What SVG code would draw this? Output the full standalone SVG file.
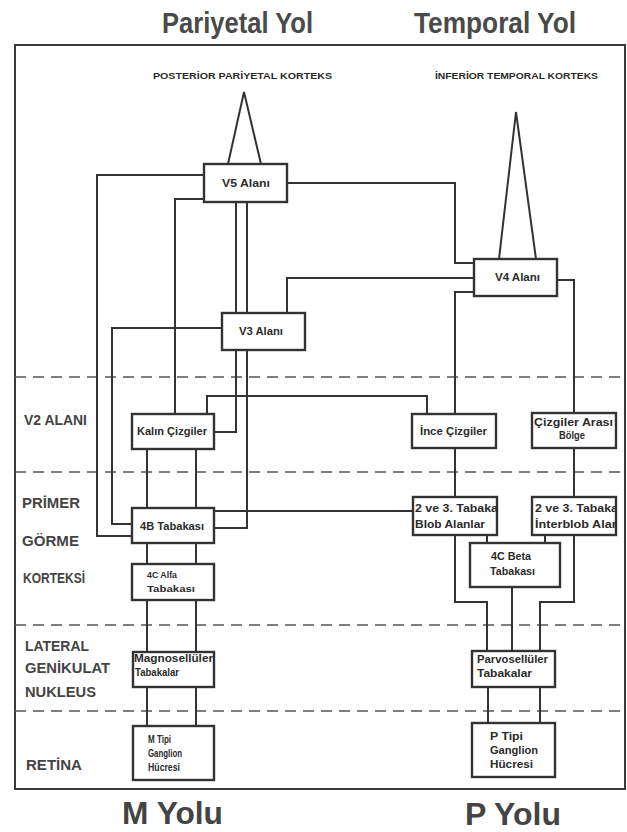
<svg xmlns="http://www.w3.org/2000/svg" width="627" height="832" viewBox="0 0 627 832">
<defs>
<style>
.bg{fill:#fff}
.frame{fill:none;stroke:#3a3a3a;stroke-width:2}
.dash{fill:none;stroke:#555;stroke-width:1.6;stroke-dasharray:11 7}
.box{fill:#fff;stroke:#333;stroke-width:2.4}
.con{fill:none;stroke:#333;stroke-width:2}
.t{font-family:"Liberation Sans",Arial,sans-serif;font-weight:bold;fill:#2b2b2b}
.nl{font-size:10px}
.side{font-size:14px;fill:#444}
.head{font-family:"Liberation Sans",Arial,sans-serif;font-weight:bold;font-size:30px;fill:#4a4a4a}
.foot{font-family:"Liberation Sans",Arial,sans-serif;font-weight:bold;font-size:31px;fill:#444}
.cort{font-size:9px}
</style>
<clipPath id="clipIB"><rect x="532" y="497" width="84" height="38"/></clipPath>
</defs>
<rect class="bg" x="0" y="0" width="627" height="832"/>

<g id="headers">
<text class="head" x="162" y="33" textLength="151" lengthAdjust="spacingAndGlyphs">Pariyetal Yol</text>
<text class="head" x="414" y="33" textLength="162" lengthAdjust="spacingAndGlyphs">Temporal Yol</text>
<text class="foot" x="122" y="824" textLength="101" lengthAdjust="spacingAndGlyphs">M Yolu</text>
<text class="foot" x="465" y="825" textLength="96" lengthAdjust="spacingAndGlyphs">P Yolu</text>
</g>

<rect class="frame" x="15" y="45" width="610" height="744"/>

<g id="dividers">
<line class="dash" x1="15" y1="377" x2="625" y2="377"/>
<line class="dash" x1="15" y1="472" x2="625" y2="472"/>
<line class="dash" x1="15" y1="625" x2="625" y2="625"/>
<line class="dash" x1="15" y1="711" x2="625" y2="711"/>
</g>

<g id="side-labels">
<text class="t side" x="24" y="425" textLength="63" lengthAdjust="spacingAndGlyphs">V2 ALANI</text>
<text class="t side" x="22" y="508" textLength="58" lengthAdjust="spacingAndGlyphs">PRİMER</text>
<text class="t side" x="22" y="546" textLength="57" lengthAdjust="spacingAndGlyphs">GÖRME</text>
<text class="t side" x="23" y="583" textLength="62" lengthAdjust="spacingAndGlyphs">KORTEKSİ</text>
<text class="t side" x="25" y="651" textLength="64" lengthAdjust="spacingAndGlyphs">LATERAL</text>
<text class="t side" x="25" y="673" textLength="85" lengthAdjust="spacingAndGlyphs">GENİKULAT</text>
<text class="t side" x="25" y="697" textLength="71" lengthAdjust="spacingAndGlyphs">NUKLEUS</text>
<text class="t side" x="26" y="770" textLength="56" lengthAdjust="spacingAndGlyphs">RETİNA</text>
</g>

<g id="cortex-labels">
<text class="t cort" x="153" y="79" textLength="179" lengthAdjust="spacingAndGlyphs">POSTERİOR  PARİYETAL KORTEKS</text>
<text class="t cort" x="435" y="79" textLength="163" lengthAdjust="spacingAndGlyphs">İNFERİOR TEMPORAL KORTEKS</text>
</g>

<g id="connectors">
<polyline class="con" points="228,164 244,92 261,164"/>
<polyline class="con" points="499,259 516,112 536,259"/>
<polyline class="con" points="204,175 97,175 97,536 132,536"/>
<polyline class="con" points="204,199 175,199 175,414"/>
<line class="con" x1="236" y1="202" x2="236" y2="313"/>
<line class="con" x1="247" y1="202" x2="247" y2="313"/>
<polyline class="con" points="287,183 455,183 455,263 474,263"/>
<polyline class="con" points="222,328 112,328 112,524 132,524"/>
<polyline class="con" points="287,313 287,278 474,278"/>
<polyline class="con" points="236,350 236,432 214,432"/>
<polyline class="con" points="247,350 247,528 214,528"/>
<polyline class="con" points="207,414 207,396 427,396 427,414"/>
<polyline class="con" points="474,292 455,292 455,414"/>
<polyline class="con" points="557,280 574,280 574,413"/>
<line class="con" x1="147" y1="449" x2="147" y2="508"/>
<line class="con" x1="196" y1="449" x2="196" y2="508"/>
<line class="con" x1="455" y1="448" x2="455" y2="497"/>
<line class="con" x1="574" y1="448" x2="574" y2="497"/>
<line class="con" x1="214" y1="511" x2="413" y2="511"/>
<line class="con" x1="147" y1="543" x2="147" y2="564"/>
<line class="con" x1="196" y1="543" x2="196" y2="564"/>
<line class="con" x1="487" y1="535" x2="487" y2="543"/>
<line class="con" x1="545" y1="535" x2="545" y2="543"/>
<polyline class="con" points="455,535 455,602 487,602 487,651"/>
<line class="con" x1="512" y1="587" x2="512" y2="651"/>
<polyline class="con" points="574,535 574,602 540,602 540,651"/>
<line class="con" x1="147" y1="600" x2="147" y2="652"/>
<line class="con" x1="196" y1="600" x2="196" y2="652"/>
<line class="con" x1="147" y1="687" x2="147" y2="726"/>
<line class="con" x1="196" y1="687" x2="196" y2="726"/>
<line class="con" x1="488" y1="687" x2="488" y2="723"/>
<line class="con" x1="540" y1="687" x2="540" y2="723"/>
</g>

<g id="v5">
<rect class="box" x="204" y="164" width="83" height="38"/>
<text class="t nl" x="222" y="187" textLength="48" lengthAdjust="spacingAndGlyphs">V5 Alanı</text>
</g>
<g id="v3">
<rect class="box" x="222" y="313" width="83" height="37"/>
<text class="t nl" x="239" y="335" textLength="44" lengthAdjust="spacingAndGlyphs">V3 Alanı</text>
</g>
<g id="v4">
<rect class="box" x="474" y="259" width="83" height="37"/>
<text class="t nl" x="495" y="281" textLength="45" lengthAdjust="spacingAndGlyphs">V4 Alanı</text>
</g>
<g id="kalin">
<rect class="box" x="132" y="414" width="82" height="35"/>
<text class="t nl" x="137" y="435" textLength="70" lengthAdjust="spacingAndGlyphs">Kalın Çizgiler</text>
</g>
<g id="ince">
<rect class="box" x="412" y="414" width="84" height="34"/>
<text class="t nl" x="420" y="435" textLength="67" lengthAdjust="spacingAndGlyphs">İnce Çizgiler</text>
</g>
<g id="cizgiler-arasi">
<rect class="box" x="532" y="413" width="84" height="35"/>
<text class="t nl" x="534" y="426" textLength="79" lengthAdjust="spacingAndGlyphs">Çizgiler Arası</text>
<text class="t nl" x="559" y="439" textLength="26" lengthAdjust="spacingAndGlyphs">Bölge</text>
</g>
<g id="tabaka4b">
<rect class="box" x="132" y="508" width="82" height="35"/>
<text class="t nl" x="140" y="530" textLength="64" lengthAdjust="spacingAndGlyphs">4B Tabakası</text>
</g>
<g id="blob">
<rect class="box" x="413" y="497" width="84" height="38"/>
<text class="t nl" x="415" y="512" textLength="83" lengthAdjust="spacingAndGlyphs">2 ve 3. Tabaka</text>
<text class="t nl" x="415" y="528" textLength="70" lengthAdjust="spacingAndGlyphs">Blob Alanlar</text>
</g>
<g id="interblob">
<rect class="box" x="532" y="497" width="84" height="38"/>
<g clip-path="url(#clipIB)">
<text class="t nl" x="535" y="512" textLength="83" lengthAdjust="spacingAndGlyphs">2 ve 3. Tabaka</text>
<text class="t nl" x="535" y="528" textLength="88" lengthAdjust="spacingAndGlyphs">İnterblob Alanı</text>
</g>
</g>
<g id="alfa4c">
<rect class="box" x="132" y="564" width="82" height="36"/>
<text class="t" font-size="9" x="147" y="578" textLength="30" lengthAdjust="spacingAndGlyphs">4C Alfa</text>
<text class="t" font-size="9" x="147" y="592" textLength="48" lengthAdjust="spacingAndGlyphs">Tabakası</text>
</g>
<g id="beta4c">
<rect class="box" x="470" y="543" width="90" height="44"/>
<text class="t nl" x="491" y="560" textLength="40" lengthAdjust="spacingAndGlyphs">4C Beta</text>
<text class="t nl" x="490" y="575" textLength="45" lengthAdjust="spacingAndGlyphs">Tabakası</text>
</g>
<g id="magno">
<rect class="box" x="133" y="652" width="81" height="35"/>
<text class="t nl" x="134" y="662" textLength="79" lengthAdjust="spacingAndGlyphs">Magnosellüler</text>
<text class="t nl" x="135" y="676" textLength="44" lengthAdjust="spacingAndGlyphs">Tabakalar</text>
</g>
<g id="parvo">
<rect class="box" x="472" y="651" width="83" height="36"/>
<text class="t nl" x="477" y="663" textLength="71" lengthAdjust="spacingAndGlyphs">Parvosellüler</text>
<text class="t nl" x="477" y="677" textLength="55" lengthAdjust="spacingAndGlyphs">Tabakalar</text>
</g>
<g id="m-tipi">
<rect class="box" x="133" y="726" width="81" height="54"/>
<text class="t nl" x="148" y="743" textLength="23" lengthAdjust="spacingAndGlyphs">M Tipi</text>
<text class="t nl" x="148" y="757" textLength="34" lengthAdjust="spacingAndGlyphs">Ganglion</text>
<text class="t nl" x="148" y="771" textLength="32" lengthAdjust="spacingAndGlyphs">Hücresi</text>
</g>
<g id="p-tipi">
<rect class="box" x="472" y="723" width="83" height="54"/>
<text class="t nl" x="490" y="740" textLength="33" lengthAdjust="spacingAndGlyphs">P Tipi</text>
<text class="t nl" x="490" y="754" textLength="48" lengthAdjust="spacingAndGlyphs">Ganglion</text>
<text class="t nl" x="490" y="768" textLength="43" lengthAdjust="spacingAndGlyphs">Hücresi</text>
</g>
</svg>
